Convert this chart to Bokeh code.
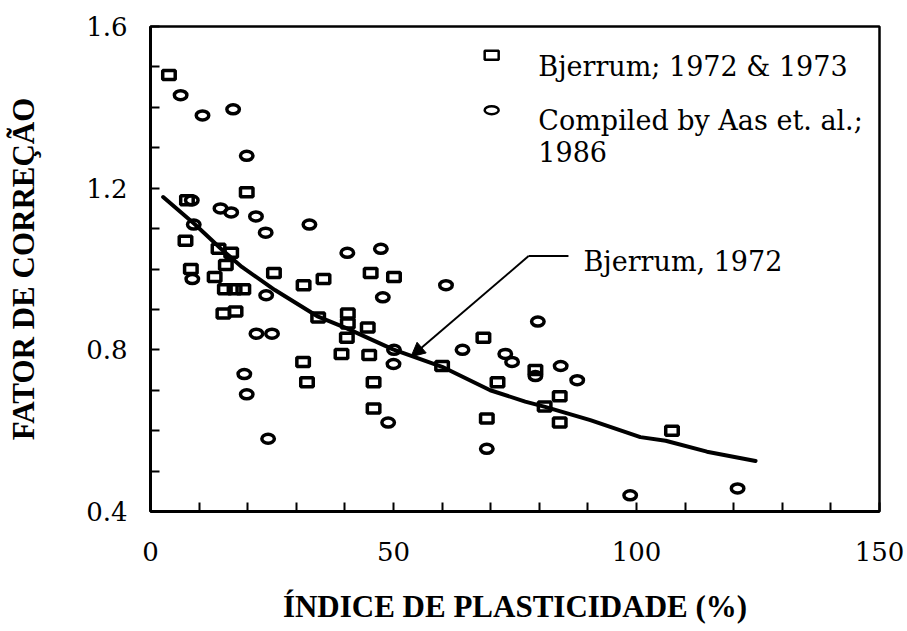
from bokeh.plotting import figure
from bokeh.models import Range1d, FixedTicker, Label, Arrow, NormalHead
from bokeh.embed import file_html
from bokeh.resources import INLINE

# ---- data ----
bjerrum_pi = [3.8, 19.8, 7.5, 7.2, 14.0, 16.6, 15.5, 8.3, 25.4, 13.2, 35.6, 31.5,
              15.3, 17.3, 19.1, 15.0, 17.5, 34.5, 45.3, 50.1, 40.6, 40.6, 44.7,
              40.4, 68.5, 39.3, 45.0, 60.0, 31.4, 32.2, 45.9, 71.4, 79.2, 84.2,
              81.1, 45.9, 69.2, 84.2, 107.3]
bjerrum_mu = [1.48, 1.19, 1.17, 1.07, 1.05, 1.04, 1.01, 1.00, 0.99, 0.98, 0.975, 0.96,
              0.95, 0.95, 0.95, 0.89, 0.895, 0.88, 0.99, 0.98, 0.89, 0.865, 0.855,
              0.83, 0.83, 0.79, 0.787, 0.76, 0.77, 0.72, 0.72, 0.72, 0.75, 0.685,
              0.66, 0.655, 0.63, 0.62, 0.60]

aas_pi = [6.2, 10.7, 17.0, 19.8, 8.5, 14.4, 16.6, 21.7, 8.9, 32.7, 23.7, 40.5,
          47.4, 8.6, 60.8, 47.8, 23.8, 21.8, 25.0, 50.1, 50.0, 64.2, 73.0, 74.4,
          79.7, 79.2, 84.4, 87.8, 19.3, 19.8, 48.9, 69.2, 24.2, 98.7, 120.8]
aas_mu = [1.43, 1.38, 1.395, 1.28, 1.17, 1.15, 1.14, 1.13, 1.11, 1.11, 1.09, 1.04,
          1.05, 0.975, 0.96, 0.93, 0.935, 0.84, 0.84, 0.80, 0.765, 0.80, 0.79, 0.77,
          0.87, 0.735, 0.76, 0.725, 0.74, 0.69, 0.62, 0.555, 0.58, 0.44, 0.457]

curve_pi = [2.6, 9.0, 14.5, 18.8, 25.6, 34.5, 40.4, 49.9, 60.0, 69.9, 77.1, 81.2,
            90.5, 100.8, 106.0, 114.5, 124.5]
curve_mu = [1.178, 1.112, 1.050, 1.005, 0.948, 0.882, 0.853, 0.801, 0.758, 0.700,
            0.672, 0.659, 0.626, 0.584, 0.575, 0.548, 0.525]

x_major = [0, 50, 100, 150]
x_minor = [10, 20, 30, 40, 60, 70, 80, 90, 110, 120, 130, 140]
y_major = [0.4, 0.8, 1.2, 1.6]
y_minor = [0.5, 0.6, 0.7, 0.9, 1.0, 1.1, 1.3, 1.4, 1.5]

legend_labels = ["Bjerrum; 1972 & 1973", "Compiled by Aas et. al.;", "1986"]
curve_label = "Bjerrum, 1972"
x_title = "ÍNDICE DE PLASTICIDADE (%)"
y_title = "FATOR DE CORREÇÃO"

# annotation anchor positions (data units)
leg_marker_x = 70.2
leg_sq_y = 1.529
leg_ci_y = 1.393
leg_text_x = 79.8
leg_text_y = [1.500, 1.367, 1.290]
lab_x, lab_y = 89.1, 1.018
leader_x = [86.0, 77.8]
leader_y = 1.032
arrow_tip = (53.6, 0.783)

p = figure(width=907, height=631, x_range=Range1d(0, 150), y_range=Range1d(0.4, 1.6),
           output_backend="svg", toolbar_location=None,
           min_border_left=150, min_border_right=28, min_border_top=26,
           min_border_bottom=120)
p.xgrid.visible = False
p.ygrid.visible = False
p.outline_line_color = "black"
p.outline_line_width = 2.5
p.background_fill_color = "white"
p.border_fill_color = "white"

for ax in (p.xaxis[0], p.yaxis[0]):
    ax.axis_line_width = 3
    ax.axis_line_color = "black"
    ax.major_tick_in = 9
    ax.major_tick_out = 0
    ax.minor_tick_in = 9
    ax.minor_tick_out = 0
    ax.major_tick_line_width = 2
    ax.minor_tick_line_width = 2
    ax.major_tick_line_color = "black"
    ax.minor_tick_line_color = "black"
    ax.major_label_text_font = "DejaVu Serif"
    ax.major_label_text_font_size = "26px"
    ax.major_label_text_color = "black"
    ax.axis_label_text_font = "Liberation Serif"
    ax.axis_label_text_font_style = "bold"
    ax.axis_label_text_font_size = "31px"
    ax.axis_label_text_color = "black"

p.xaxis.ticker = FixedTicker(ticks=x_major, minor_ticks=x_minor)
p.yaxis.ticker = FixedTicker(ticks=y_major, minor_ticks=y_minor)
p.xaxis.axis_label = x_title
p.yaxis.axis_label = y_title
p.xaxis.major_label_standoff = 30
p.xaxis.axis_label_standoff = 25
p.yaxis.major_label_standoff = 23
p.yaxis.axis_label_standoff = 42

# curve
p.line(curve_pi, curve_mu, line_width=4, line_color="black",
       line_join="round", line_cap="round")

# data markers
p.rect(bjerrum_pi, bjerrum_mu, width=12.5, height=9, width_units="screen",
       height_units="screen", fill_color=None, line_color="black", line_width=3.5)
p.ellipse(aas_pi, aas_mu, width=12.5, height=9, width_units="screen",
          height_units="screen", fill_color=None, line_color="black", line_width=3.5)

# legend
p.rect([leg_marker_x], [leg_sq_y], width=14, height=9, width_units="screen",
       height_units="screen", fill_color=None, line_color="black", line_width=2.5)
p.ellipse([leg_marker_x], [leg_ci_y], width=14, height=8, width_units="screen",
          height_units="screen", fill_color=None, line_color="black", line_width=2.5)
for t, ty in zip(legend_labels, leg_text_y):
    p.add_layout(Label(x=leg_text_x, y=ty, text=t, text_font="DejaVu Serif",
                       text_font_size="27px", text_baseline="alphabetic",
                       text_color="black"))

# curve label and leader
p.add_layout(Label(x=lab_x, y=lab_y, text=curve_label, text_font="DejaVu Serif",
                   text_font_size="27px", text_baseline="alphabetic",
                   text_color="black"))
p.line(leader_x, [leader_y, leader_y], line_width=2, line_color="black")
p.add_layout(Arrow(x_start=leader_x[1], y_start=leader_y,
                   x_end=arrow_tip[0], y_end=arrow_tip[1],
                   line_width=2, line_color="black",
                   end=NormalHead(size=14, fill_color="black", line_color="black")))

open("out.html", "w").write(file_html(p, INLINE))
